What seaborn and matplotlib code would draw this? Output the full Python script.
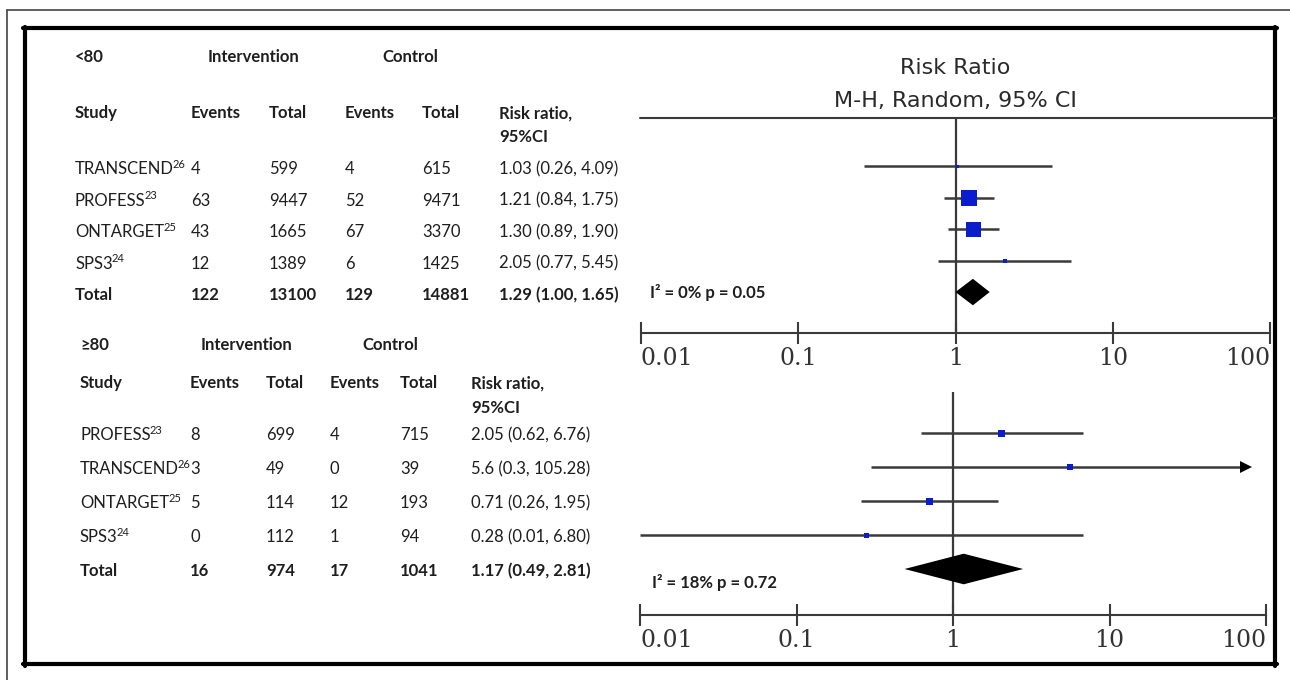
import numpy as np
import pandas as pd
import matplotlib
matplotlib.use("Agg")
import matplotlib.pyplot as plt
import matplotlib.transforms as mtransforms
from matplotlib.lines import Line2D
from matplotlib.ticker import FixedLocator, FixedFormatter, NullLocator
import seaborn as sns

# ---- data: age < 80 ----
studies_lt80 = ["TRANSCEND", "PROFESS", "ONTARGET", "SPS3"]
refs_lt80 = ["26", "23", "25", "24"]
int_events_lt80 = [4, 63, 43, 12]
int_total_lt80 = [599, 9447, 1665, 1389]
ctl_events_lt80 = [4, 52, 67, 6]
ctl_total_lt80 = [615, 9471, 3370, 1425]
rr_lt80 = [1.03, 1.21, 1.30, 2.05]
lo_lt80 = [0.26, 0.84, 0.89, 0.77]
hi_lt80 = [4.09, 1.75, 1.90, 5.45]
rr_text_lt80 = ["1.03 (0.26, 4.09)", "1.21 (0.84, 1.75)", "1.30 (0.89, 1.90)", "2.05 (0.77, 5.45)"]
weight_px_lt80 = [3, 16, 15, 4]
total_lt80 = [122, 13100, 129, 14881]
pooled_lt80 = (1.29, 1.00, 1.65)
pooled_text_lt80 = "1.29 (1.00, 1.65)"
het_lt80 = "I² = 0% p = 0.05"

# ---- data: age >= 80 ----
studies_ge80 = ["PROFESS", "TRANSCEND", "ONTARGET", "SPS3"]
refs_ge80 = ["23", "26", "25", "24"]
int_events_ge80 = [8, 3, 5, 0]
int_total_ge80 = [699, 49, 114, 112]
ctl_events_ge80 = [4, 0, 12, 1]
ctl_total_ge80 = [715, 39, 193, 94]
rr_ge80 = [2.05, 5.6, 0.71, 0.28]
lo_ge80 = [0.62, 0.3, 0.26, 0.01]
hi_ge80 = [6.76, 105.28, 1.95, 6.80]
rr_text_ge80 = ["2.05 (0.62, 6.76)", "5.6 (0.3, 105.28)", "0.71 (0.26, 1.95)", "0.28 (0.01, 6.80)"]
weight_px_ge80 = [7, 6, 7, 5]
total_ge80 = [16, 974, 17, 1041]
pooled_ge80 = (1.17, 0.49, 2.81)
pooled_text_ge80 = "1.17 (0.49, 2.81)"
het_ge80 = "I² = 18% p = 0.72"

ticks = [0.01, 0.1, 1, 10, 100]
tick_labels = ["0.01", "0.1", "1", "10", "100"]

sns.set_theme(style="white")
plt.rcParams["font.family"] = ["Lato", "DejaVu Sans"]

W, H = 1290, 680
fig = plt.figure(figsize=(W / 100, H / 100), dpi=100)
fig.patch.set_facecolor("white")
renderer = fig.canvas.get_renderer()

TXT = "#1e1e1e"
LINE = "#3a3a3a"
BLUE = "#0a1ccc"


def fx(x):
    return x / W


def fy(y):
    return 1 - y / H


def hline_px(x0, x1, y, lw, color):
    fig.add_artist(Line2D([fx(x0), fx(x1)], [fy(y), fy(y)], transform=fig.transFigure, lw=lw, color=color))


def vline_px(x, y0, y1, lw, color):
    fig.add_artist(Line2D([fx(x), fx(x)], [fy(y0), fy(y1)], transform=fig.transFigure, lw=lw, color=color))


# frames
hline_px(7, 1290, 10, 1.2, "#444444")
vline_px(7, 10, 680, 1.2, "#444444")
hline_px(22.5, 1277, 28, 3.0, "black")
hline_px(22.5, 1277, 664, 3.0, "black")
vline_px(24.5, 26.5, 665.5, 3.0, "black")
vline_px(1275, 26.5, 665.5, 3.0, "black")

# top separator and titles
hline_px(640, 1275, 118, 1.5, LINE)
fig.text(fx(955), fy(68), "Risk Ratio", ha="center", va="center", fontsize=16,
         family="DejaVu Sans", color="#2a2a2a")
fig.text(fx(955), fy(101), "M-H, Random, 95% CI", ha="center", va="center", fontsize=16,
         family="DejaVu Sans", color="#2a2a2a")

ax1 = fig.add_axes([fx(641), fy(333), fx(1270) - fx(641), fy(118) - fy(333)])
ax2 = fig.add_axes([fx(640), fy(615), fx(1266) - fx(640), fy(392) - fy(615)])
ax1.set_ylim(5.30, -1.524)
ax2.set_ylim(5.353, -1.206)


def forest(ax, rr, lo, hi, weight_px, pooled, half_h):
    rows = np.arange(len(rr))
    cap = 75
    hi_clip = np.minimum(hi, cap)
    ax.axvline(1, color=LINE, lw=1.6, zorder=1)
    ax.hlines(rows, lo, hi_clip, color=LINE, lw=1.8, zorder=2)
    for r, h, hc in zip(rows, hi, hi_clip):
        if h > hc:
            ax.plot(hc, r, marker=">", ms=8, color="black", mew=0, zorder=3)
    df = pd.DataFrame({"rr": rr, "row": rows, "area": (np.array(weight_px) * 0.72) ** 2})
    sns.scatterplot(data=df, x="rr", y="row", size="area",
                    sizes=(df["area"].min(), df["area"].max()), marker="s",
                    color=BLUE, linewidth=0, legend=False, ax=ax, zorder=4)
    p, plo, phi = pooled
    r = len(rr)
    ax.fill([plo, p, phi, p], [r, r - half_h, r, r + half_h], color="black", lw=0, zorder=5)
    ax.set_xscale("log")
    ax.set_xlim(0.01, 100)
    ax.set_facecolor("none")
    for s in ["top", "left", "right"]:
        ax.spines[s].set_visible(False)
    ax.spines["bottom"].set_color(LINE)
    ax.spines["bottom"].set_linewidth(1.5)
    ax.yaxis.set_visible(False)
    ax.set_xlabel("")
    ax.xaxis.set_major_locator(FixedLocator(ticks))
    ax.xaxis.set_major_formatter(FixedFormatter(tick_labels))
    ax.xaxis.set_minor_locator(NullLocator())
    ax.tick_params(axis="x", direction="inout", length=16, width=1.5, color=LINE,
                   labelsize=17, pad=2, labelcolor="#333333", bottom=True)
    labs = ax.get_xticklabels()
    for lab in labs:
        lab.set_fontfamily("DejaVu Serif")
    labs[0].set_ha("left")
    labs[-1].set_ha("right")


forest(ax1, rr_lt80, lo_lt80, hi_lt80, weight_px_lt80, pooled_lt80, 0.42)
forest(ax2, rr_ge80, lo_ge80, hi_ge80, weight_px_ge80, pooled_ge80, 0.45)


def table(ax, label, cols_x, head_x, head_rows, shift, studies, refs, ie, it, ce, ct, rrt, tot, ptext):
    base = mtransforms.blended_transform_factory(fig.transFigure, ax.transData)
    row_tr = mtransforms.offset_copy(base, fig=fig, x=0, y=-shift, units="dots")

    def put(x, y, s, bold=False, tr=row_tr):
        return fig.text(fx(x), y, s, transform=tr, ha="left", va="center", fontsize=12,
                        fontweight="bold" if bold else "normal", color=TXT)

    y_grp, y_head, y_head2 = head_rows
    put(cols_x[0], y_grp, label, True, base)
    put(head_x[0], y_grp, "Intervention", True, base)
    put(head_x[1], y_grp, "Control", True, base)
    for x, s in zip(cols_x, ["Study", "Events", "Total", "Events", "Total", "Risk ratio,"]):
        put(x, y_head, s, True, base)
    put(cols_x[5], y_head2, "95%CI", True, base)
    sup_tr = mtransforms.offset_copy(base, fig=fig, x=-1, y=5 - shift, units="dots")
    for i in range(len(studies)):
        t = put(cols_x[0], i, studies[i])
        bb = t.get_window_extent(renderer)
        fig.text(bb.x1 / fig.bbox.width, i, refs[i], transform=sup_tr, ha="left", va="center",
                 fontsize=8, color=TXT)
        vals = [str(ie[i]), str(it[i]), str(ce[i]), str(ct[i]), rrt[i]]
        for x, s in zip(cols_x[1:], vals):
            put(x, i, s)
    r = len(studies)
    for x, s in zip(cols_x, ["Total"] + [str(v) for v in tot] + [ptext]):
        put(x, r, s, True)


table(ax1, "<80", [75, 191, 269, 345, 422, 499], [208, 382], (-3.46, -1.68, -0.92), 3,
      studies_lt80, refs_lt80, int_events_lt80, int_total_lt80, ctl_events_lt80,
      ctl_total_lt80, rr_text_lt80, total_lt80, pooled_text_lt80)
table(ax2, "≥80", [80, 190, 266, 330, 400, 471], [201, 362], (-2.59, -1.47, -0.74), 2,
      studies_ge80, refs_ge80, int_events_ge80, int_total_ge80, ctl_events_ge80,
      ctl_total_ge80, rr_text_ge80, total_ge80, pooled_text_ge80)

# heterogeneity notes
tr1 = mtransforms.blended_transform_factory(fig.transFigure, ax1.transData)
tr2 = mtransforms.blended_transform_factory(fig.transFigure, ax2.transData)
fig.text(fx(650), 4.0, het_lt80, transform=tr1, ha="left", va="center", fontsize=12,
         fontweight="bold", color=TXT)
fig.text(fx(652), 4.41, het_ge80, transform=tr2, ha="left", va="center", fontsize=12,
         fontweight="bold", color=TXT)

fig.savefig("out.png", dpi=100, facecolor="white")
